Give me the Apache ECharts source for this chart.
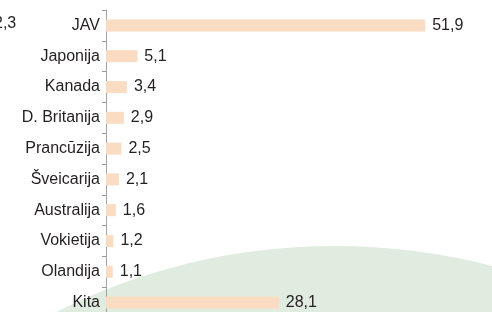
<!DOCTYPE html>
<html>
<head>
<meta charset="utf-8">
<script src="https://cdn.jsdelivr.net/npm/echarts@6/dist/echarts.min.js"></script>
<style>
  html, body { margin: 0; padding: 0; background: #fff; }
  #chart { width: 492px; height: 312px; }
</style>
</head>
<body>
<div id="chart"></div>
<script>
// šalys ir jų dalys, proc.
const countries = ['JAV', 'Japonija', 'Kanada', 'D. Britanija', 'Prancūzija', 'Šveicarija', 'Australija', 'Vokietija', 'Olandija', 'Kita'];
const shares = [51.9, 5.1, 3.4, 2.9, 2.5, 2.1, 1.6, 1.2, 1.1, 28.1];

const chart = echarts.init(document.getElementById('chart'));

const option = {
  animation: false,
  graphic: [
    {
      // žalias fono lankas
      type: 'ellipse',
      z: -10,
      silent: true,
      shape: { cx: 335, cy: 746, rx: 560, ry: 500 },
      style: { fill: '#e1ece0' }
    },
    {
      // gretimos diagramos likutis kairėje
      type: 'text',
      left: -6,
      top: 16,
      style: { text: '2,3', font: '16px "Liberation Sans", Arial, sans-serif', fill: '#231f20' }
    }
  ],
  grid: {
    left: 106,
    width: 369,
    top: 10,
    height: 308,
    outerBoundsMode: 'none'
  },
  xAxis: {
    type: 'value',
    min: 0,
    max: 60,
    show: false
  },
  yAxis: {
    type: 'category',
    inverse: true,
    data: countries,
    axisLine: { show: true, lineStyle: { color: '#a3a3a3', width: 1 } },
    axisTick: { show: true, length: 4, lineStyle: { color: '#999999', width: 1 } },
    axisLabel: {
      margin: 6,
      fontSize: 16,
      fontFamily: '"Liberation Sans", Arial, sans-serif',
      color: '#231f20'
    }
  },
  series: [
    {
      type: 'bar',
      data: shares,
      barWidth: 12,
      itemStyle: { color: '#f9dcc2' },
      label: {
        show: true,
        position: 'right',
        distance: 7,
        fontSize: 16,
        fontFamily: '"Liberation Sans", Arial, sans-serif',
        color: '#231f20',
        formatter: (p) => p.value.toFixed(1).replace('.', ',')
      }
    }
  ]
};

chart.setOption(option);
</script>
</body>
</html>
